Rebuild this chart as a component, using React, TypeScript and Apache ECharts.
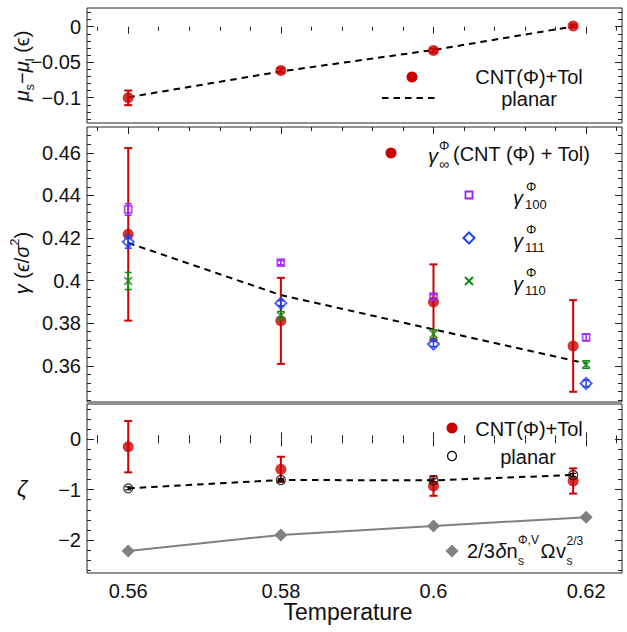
import { useEffect, useRef } from "react";
import * as echarts from "echarts";

// ---------------- data ----------------
const tempCNT = [0.56, 0.58, 0.6, 0.6183];
const tempFull = [0.56, 0.58, 0.6, 0.62];

// top panel: mu_s - mu_l
const muCNT = [-0.1002, -0.0616, -0.0336, 0.001];
const muCNTErr = [0.0103, 0.003, 0.003, 0.002];
const muPlanar = [-0.0994, -0.063, -0.0328, 0.0003];

// middle panel: gamma
const gammaInf = [0.4217, 0.3811, 0.3899, 0.3693];
const gammaInfErr = [0.0405, 0.0202, 0.0177, 0.0215];
const gamma100 = [0.4334, 0.4084, 0.3924, 0.3733];
const gamma100Err = [0.0027, 0.001, 0.001, 0.0015];
const gamma111 = [0.4182, 0.3894, 0.3702, 0.3517];
const gamma111Err = [0.003, 0.0012, 0.0012, 0.0015];
const gamma110 = [0.3998, 0.3835, 0.3749, 0.3606];
const gamma110Err = [0.004, 0.002, 0.002, 0.0018];
const gammaPlanar = [0.4177, 0.3932, 0.3771, 0.3611];

// bottom panel: zeta
const zetaCNT = [-0.146, -0.596, -0.927, -0.828];
const zetaCNTErr = [0.51, 0.25, 0.195, 0.25];
const zetaPlanar = [-0.974, -0.808, -0.815, -0.709];
const zetaPlanarErr = [0.03, 0.03, 0.03, 0.03];
const zetaGeom = [-2.219, -1.9, -1.72, -1.55];

// ticks
const xMajor = [0.56, 0.58, 0.6, 0.62];
const xMinor = [0.556, 0.564, 0.568, 0.572, 0.576, 0.584, 0.588, 0.592, 0.596, 0.604, 0.608, 0.612, 0.616, 0.624];
const muMajor = [0, -0.05, -0.1];
const muMinor = [0.02, 0.01, -0.01, -0.02, -0.03, -0.04, -0.06, -0.07, -0.08, -0.09, -0.11, -0.12, -0.13];
const gammaMajor = [0.36, 0.38, 0.4, 0.42, 0.44, 0.46];
const gammaMinor = [0.344, 0.348, 0.352, 0.356, 0.364, 0.368, 0.372, 0.376, 0.384, 0.388, 0.392, 0.396, 0.404, 0.408, 0.412, 0.416, 0.424, 0.428, 0.432, 0.436, 0.444, 0.448, 0.452, 0.456, 0.464, 0.468];
const zetaMajor = [0, -1, -2];
const zetaMinor = [0.6, 0.4, 0.2, -0.2, -0.4, -0.6, -0.8, -1.2, -1.4, -1.6, -1.8, -2.2, -2.4, -2.6];

// ---------------- style ----------------
const FONT = "'Liberation Sans', Arial, Helvetica, sans-serif";
const INK = "#222";
const TXT = "#111";
const RED = "#cc0000";
const PURPLE = "#a020f0";
const BLUE = "#2040f0";
const GREEN = "#108a10";
const GRAY = "#808080";

const X_RANGE: [number, number] = [0.5546, 0.6247];
const GRIDS = [
  { left: 87, right: 5, top: 8, height: 115, y: [-0.1356, 0.0263], major: muMajor, minor: muMinor },
  { left: 87, right: 5, top: 127, height: 275, y: [0.343, 0.4721], major: gammaMajor, minor: gammaMinor },
  { left: 87, right: 5, top: 404, height: 169, y: [-2.656, 0.702], major: zetaMajor, minor: zetaMinor },
];

const fmt = (v: number) => String(Math.round(v * 1000) / 1000).replace("-", "\u2212");

function tickAxis(kind: "x" | "y", grid: number, position: string, min: number, max: number, values: number[] | null, len: number, labels: boolean) {
  return {
    type: "value",
    gridIndex: grid,
    position,
    min,
    max,
    axisLine: { show: false },
    splitLine: { show: false },
    axisTick: values
      ? { show: true, inside: true, length: len, customValues: values, lineStyle: { color: INK, width: 1 } }
      : { show: false },
    axisLabel: labels
      ? { show: true, customValues: values, formatter: fmt, fontSize: 20, fontFamily: FONT, color: TXT, margin: kind === "x" ? 8 : 6 }
      : { show: false },
  };
}

function errSeries(xs: number[], ys: number[], es: number[], xi: number, yi: number, color: string, cap: number, lw: number, z: number) {
  return {
    type: "custom",
    xAxisIndex: xi,
    yAxisIndex: yi,
    z,
    silent: true,
    data: xs.map((x, i) => [x, ys[i] - es[i], ys[i] + es[i]]),
    encode: { x: 0, y: [1, 2] },
    renderItem: (_p: any, api: any) => {
      const x = api.value(0);
      const lo = api.coord([x, api.value(1)]);
      const hi = api.coord([x, api.value(2)]);
      const st = { stroke: color, lineWidth: lw };
      return {
        type: "group",
        children: [
          { type: "line", shape: { x1: lo[0], y1: lo[1], x2: hi[0], y2: hi[1] }, style: st },
          { type: "line", shape: { x1: lo[0] - cap, y1: lo[1], x2: lo[0] + cap, y2: lo[1] }, style: st },
          { type: "line", shape: { x1: hi[0] - cap, y1: hi[1], x2: hi[0] + cap, y2: hi[1] }, style: st },
        ],
      };
    },
  };
}

const zip = (xs: number[], ys: number[]) => xs.map((x, i) => [x, ys[i]]);

const XSYM = "path://M0,1.3L1.3,0L5,3.7L8.7,0L10,1.3L6.3,5L10,8.7L8.7,10L5,6.3L1.3,10L0,8.7L3.7,5Z";

function txt(x: number, y: number, text: string, size = 20, extra: any = {}, align = "center") {
  return {
    type: "text",
    x,
    y,
    silent: true,
    style: {
      text,
      fontSize: size,
      fontFamily: FONT,
      fill: TXT,
      align,
      verticalAlign: "middle",
      textAlign: align,
      textVerticalAlign: "middle",
      ...extra,
    },
  };
}

function buildOption() {
  const xAxes: any[] = [];
  const yAxes: any[] = [];
  const mainX: number[] = [];
  const mainY: number[] = [];
  GRIDS.forEach((g, gi) => {
    const [xmin, xmax] = X_RANGE;
    const [ymin, ymax] = g.y;
    const bottom = gi === 2;
    xAxes.push(tickAxis("x", gi, "bottom", xmin, xmax, bottom ? xMajor : null, 7, bottom));
    mainX.push(xAxes.length - 1);
    if (bottom) xAxes.push(tickAxis("x", gi, "bottom", xmin, xmax, xMinor, 4, false));
    xAxes.push(tickAxis("x", gi, "top", xmin, xmax, xMajor, 7, false));
    xAxes.push(tickAxis("x", gi, "top", xmin, xmax, xMinor, 4, false));
    yAxes.push(tickAxis("y", gi, "left", ymin, ymax, g.major, 7, true));
    mainY.push(yAxes.length - 1);
    yAxes.push(tickAxis("y", gi, "left", ymin, ymax, g.minor, 4, false));
    yAxes.push(tickAxis("y", gi, "right", ymin, ymax, g.major, 7, false));
    yAxes.push(tickAxis("y", gi, "right", ymin, ymax, g.minor, 4, false));
  });

  const dashed = { color: "#000", width: 2, type: [6.5, 5] as any };
  const series: any[] = [
    // top
    { type: "line", xAxisIndex: mainX[0], yAxisIndex: mainY[0], data: zip(tempCNT, muPlanar), symbol: "none", lineStyle: dashed, z: 2 },
    errSeries(tempCNT, muCNT, muCNTErr, mainX[0], mainY[0], RED, 4, 2, 3),
    { type: "scatter", xAxisIndex: mainX[0], yAxisIndex: mainY[0], data: zip(tempCNT, muCNT), symbol: "circle", symbolSize: 11, itemStyle: { color: RED }, z: 4 },

    // middle
    { type: "line", xAxisIndex: mainX[1], yAxisIndex: mainY[1], data: zip(tempFull, gammaPlanar), symbol: "none", lineStyle: dashed, z: 2 },
    errSeries(tempCNT, gammaInf, gammaInfErr, mainX[1], mainY[1], RED, 4, 2, 3),
    { type: "scatter", xAxisIndex: mainX[1], yAxisIndex: mainY[1], data: zip(tempCNT, gammaInf), symbol: "circle", symbolSize: 11, itemStyle: { color: RED }, z: 4 },
    errSeries(tempFull, gamma110, gamma110Err, mainX[1], mainY[1], GREEN, 3.5, 1.5, 5),
    { type: "scatter", xAxisIndex: mainX[1], yAxisIndex: mainY[1], data: zip(tempFull, gamma110), symbol: XSYM, symbolSize: 9, itemStyle: { color: GREEN }, z: 5 },
    errSeries(tempFull, gamma100, gamma100Err, mainX[1], mainY[1], PURPLE, 3.5, 1.5, 5),
    { type: "scatter", xAxisIndex: mainX[1], yAxisIndex: mainY[1], data: zip(tempFull, gamma100), symbol: "rect", symbolSize: 7, itemStyle: { color: "rgba(255,255,255,0)", borderColor: PURPLE, borderWidth: 1.8 }, z: 5 },
    errSeries(tempFull, gamma111, gamma111Err, mainX[1], mainY[1], BLUE, 3.5, 1.5, 5),
    { type: "scatter", xAxisIndex: mainX[1], yAxisIndex: mainY[1], data: zip(tempFull, gamma111), symbol: "diamond", symbolSize: [11, 11], itemStyle: { color: "rgba(255,255,255,0)", borderColor: BLUE, borderWidth: 2 }, z: 5 },

    // bottom
    { type: "line", xAxisIndex: mainX[2], yAxisIndex: mainY[2], data: zip(tempFull, zetaGeom), symbol: "diamond", symbolSize: 13, itemStyle: { color: GRAY }, lineStyle: { color: GRAY, width: 2 }, z: 2 },
    { type: "line", xAxisIndex: mainX[2], yAxisIndex: mainY[2], data: zip(tempCNT, zetaPlanar), symbol: "none", lineStyle: dashed, z: 2 },
    errSeries(tempCNT, zetaCNT, zetaCNTErr, mainX[2], mainY[2], RED, 4, 2, 3),
    { type: "scatter", xAxisIndex: mainX[2], yAxisIndex: mainY[2], data: zip(tempCNT, zetaCNT), symbol: "circle", symbolSize: 11, itemStyle: { color: RED }, z: 4 },
    errSeries(tempCNT, zetaPlanar, zetaPlanarErr, mainX[2], mainY[2], "#000", 3, 1.2, 5),
    { type: "scatter", xAxisIndex: mainX[2], yAxisIndex: mainY[2], data: zip(tempCNT, zetaPlanar), symbol: "circle", symbolSize: 9, itemStyle: { color: "rgba(255,255,255,0)", borderColor: "#000", borderWidth: 1.2 }, z: 5 },
  ];

  const rich = {
    m: { fontSize: 20, fontFamily: FONT, color: TXT, lineHeight: 28, verticalAlign: "middle" },
    i: { fontSize: 20, fontFamily: FONT, fontStyle: "italic", color: TXT, lineHeight: 28, verticalAlign: "middle" },
    s: { fontSize: 13, fontFamily: FONT, color: TXT, lineHeight: 14, verticalAlign: "bottom" },
    p: { fontSize: 13, fontFamily: FONT, color: TXT, lineHeight: 14, verticalAlign: "top" },
  };

  const graphic: any[] = [
    // axis names
    { ...txt(22, 66, "{i|μ}{s|s}{m|−}{i|μ}{s|l}{m| (ϵ)}", 20, { rich }), rotation: Math.PI / 2 },
    { ...txt(22, 263, "{i|γ}{m| (}{i|ϵ}{m|/}{i|σ}{p|2}{m|)}", 20, { rich }), rotation: Math.PI / 2 },
    txt(22, 488, "ζ", 22, { fontStyle: "italic" }),
    txt(348, 612, "Temperature", 23),

    // top legend
    { type: "circle", silent: true, shape: { cx: 412, cy: 77, r: 5.5 }, style: { fill: RED } },
    txt(529, 77, "CNT(Φ)+Tol"),
    { type: "line", silent: true, shape: { x1: 382, y1: 98, x2: 436, y2: 98 }, style: { stroke: "#000", lineWidth: 2, lineDash: [6.5, 5] } },
    txt(529, 99, "planar"),

    // middle legend
    { type: "circle", silent: true, shape: { cx: 391, cy: 153, r: 5.5 }, style: { fill: RED } },
    txt(428, 156, "γ", 20, { fontStyle: "italic" }, "left"),
    txt(439, 145, "Φ", 13, {}, "left"),
    txt(439, 164, "∞", 14, {}, "left"),
    txt(453, 154, "(CNT (Φ) + Tol)", 20, {}, "left"),

    { type: "rect", silent: true, shape: { x: 465.5, y: 191.5, width: 7, height: 7 }, style: { fill: "none", stroke: PURPLE, lineWidth: 1.8 } },
    txt(513, 198, "γ", 20, { fontStyle: "italic" }, "left"),
    txt(526, 186, "Φ", 13, {}, "left"),
    txt(525, 204, "100", 13, {}, "left"),

    { type: "polygon", silent: true, shape: { points: [[469, 232.5], [474.5, 238], [469, 243.5], [463.5, 238]] }, style: { fill: "none", stroke: BLUE, lineWidth: 2 } },
    txt(513, 241, "γ", 20, { fontStyle: "italic" }, "left"),
    txt(526, 229, "Φ", 13, {}, "left"),
    txt(525, 247, "111", 13, {}, "left"),

    { type: "line", silent: true, shape: { x1: 465, y1: 277, x2: 473, y2: 285 }, style: { stroke: GREEN, lineWidth: 2 } },
    { type: "line", silent: true, shape: { x1: 465, y1: 285, x2: 473, y2: 277 }, style: { stroke: GREEN, lineWidth: 2 } },
    txt(513, 284, "γ", 20, { fontStyle: "italic" }, "left"),
    txt(526, 272, "Φ", 13, {}, "left"),
    txt(525, 290, "110", 13, {}, "left"),

    // bottom legend
    { type: "circle", silent: true, shape: { cx: 452, cy: 428, r: 5.5 }, style: { fill: RED } },
    txt(529, 429, "CNT(Φ)+Tol"),
    { type: "circle", silent: true, shape: { cx: 452, cy: 456, r: 4.5 }, style: { fill: "#fff", stroke: "#000", lineWidth: 1.2 } },
    txt(528, 457, "planar"),
    { type: "polygon", silent: true, shape: { points: [[452, 544.5], [458.5, 551], [452, 557.5], [445.5, 551]] }, style: { fill: GRAY } },
    txt(467, 551, "2/3", 20, {}, "left"),
    txt(495.5, 551, "δ", 20, { fontStyle: "italic" }, "left"),
    txt(506.5, 551, "n", 20, {}, "left"),
    txt(518, 540, "Φ,V", 12, {}, "left"),
    txt(518, 561, "s", 12, {}, "left"),
    txt(540.5, 551, "Ω", 20, {}, "left"),
    txt(556, 551, "v", 20, {}, "left"),
    txt(566.5, 541, "2/3", 12, {}, "left"),
    txt(566.5, 561, "s", 12, {}, "left"),
  ];

  return {
    animation: false,
    backgroundColor: "#fff",
    textStyle: { fontFamily: FONT },
    grid: GRIDS.map((g) => ({ left: g.left, right: g.right, top: g.top, height: g.height, show: true, borderColor: INK, borderWidth: 1, backgroundColor: "transparent" })),
    xAxis: xAxes,
    yAxis: yAxes,
    series,
    graphic,
  };
}

export default function App() {
  const ref = useRef<HTMLDivElement>(null);
  useEffect(() => {
    document.body.style.margin = "0";
    const chart = echarts.init(ref.current!, null, { renderer: "svg" });
    chart.setOption(buildOption() as any);
    return () => chart.dispose();
  }, []);
  return <div ref={ref} style={{ width: 627, height: 632 }} />;
}
